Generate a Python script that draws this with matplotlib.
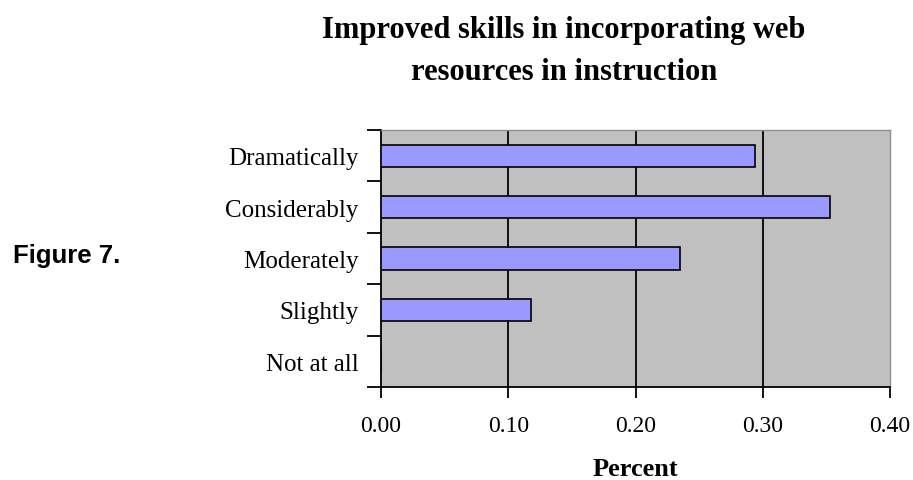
import matplotlib
matplotlib.use("Agg")
import matplotlib.pyplot as plt

# survey answers, top to bottom as shown
categories = ["Dramatically", "Considerably", "Moderately", "Slightly", "Not at all"]
percent = [0.294, 0.353, 0.235, 0.118, 0.0]
xticks = [0.0, 0.1, 0.2, 0.3, 0.4]
xtick_labels = ["0.00", "0.10", "0.20", "0.30", "0.40"]

serif = ["Liberation Serif", "DejaVu Serif"]

fig = plt.figure(figsize=(9.13, 4.81), dpi=100)
ax = fig.add_axes([381 / 913, 1 - 388 / 481, 509 / 913, 257 / 481])
ax.set_facecolor("#c0c0c0")

ypos = list(range(len(categories)))
ax.barh(ypos, percent, height=0.43, color="#9999ff", edgecolor="black", linewidth=1.2, zorder=3)

ax.set_xlim(0, 0.4)
ax.set_ylim(len(categories) - 0.5, -0.5)

# vertical gridlines
for x in xticks[1:-1]:
    ax.axvline(x, color="black", linewidth=1.3, zorder=2)

ax.set_xticks(xticks)
ax.set_xticklabels(xtick_labels, fontfamily=serif, fontsize=17)
ax.set_yticks(ypos)
ax.set_yticklabels(categories, fontfamily=serif, fontsize=18)
ax.tick_params(axis="y", length=0, pad=16)
# ticks between categories on the left
ax.set_yticks([y - 0.5 for y in ypos] + [len(categories) - 0.5], minor=True)
ax.tick_params(axis="y", which="minor", length=10, width=1.3, direction="out")
ax.tick_params(axis="x", length=8, width=1.3, direction="out", pad=12)

for side in ["left", "bottom"]:
    ax.spines[side].set_color("black")
    ax.spines[side].set_linewidth(1.3)
for side in ["top", "right"]:
    ax.spines[side].set_color("#909090")
    ax.spines[side].set_linewidth(1.0)

fig.text(635 / 913, 1 - 476 / 481, "Percent", ha="center", va="baseline",
         fontfamily=serif, fontsize=19, fontweight="bold")

fig.text(564 / 913, 1 - 38 / 481, "Improved skills in incorporating web",
         ha="center", va="baseline", fontfamily=serif, fontsize=22, fontweight="bold")
fig.text(564 / 913, 1 - 80 / 481, "resources in instruction",
         ha="center", va="baseline", fontfamily=serif, fontsize=22, fontweight="bold")

fig.text(13 / 913, 1 - 263 / 481, "Figure 7.", ha="left", va="baseline",
         fontfamily=["Liberation Sans", "DejaVu Sans"], fontsize=18.5, fontweight="bold")

fig.savefig("out.png", dpi=100)
